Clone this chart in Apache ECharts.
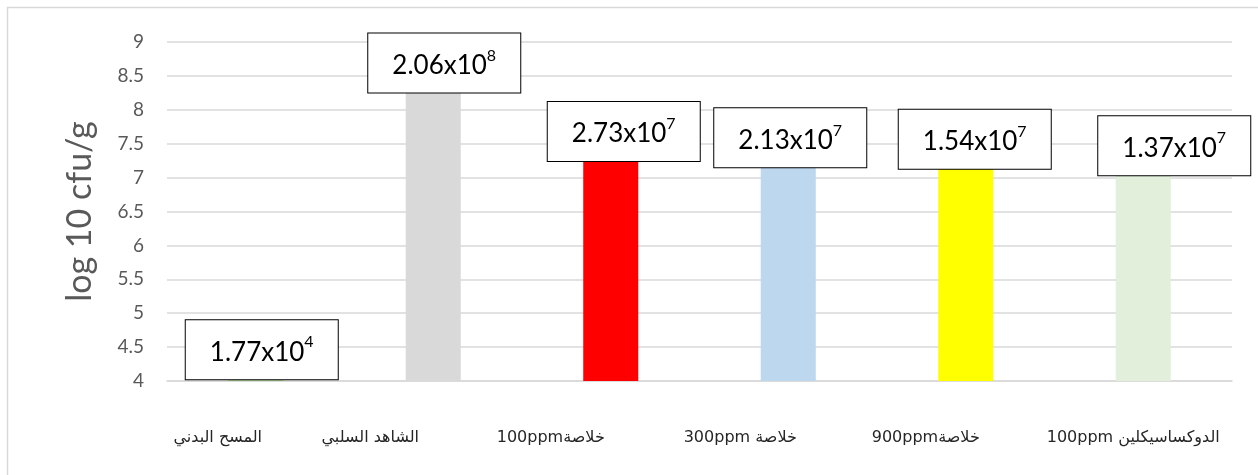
<!DOCTYPE html>
<html>
<head>
<meta charset="utf-8">
<script src="https://cdn.jsdelivr.net/npm/echarts@6/dist/echarts.min.js"></script>
<style>
  html, body { margin: 0; padding: 0; background: #fff; }
  #chart { width: 1258px; height: 475px; }
</style>
</head>
<body>
<div id="chart"></div>
<script>
// categories shown left to right (visual order, LTR paragraph)
var categories = ['المسح البدني', 'الشاهد السلبي', '100ppmخلاصة', '300ppm خلاصة', '900ppmخلاصة', '100ppm الدوكساسيكلين'];
// log10 cfu/g
var logValues = [4.248, 8.314, 7.436, 7.328, 7.188, 7.137];
// counts written in the boxes: mantissa and exponent
var mantissas = ['1.77', '2.06', '2.73', '2.13', '1.54', '1.37'];
var exponents = ['4', '8', '7', '7', '7', '7'];
var yTicks = { min: 4, max: 9, interval: 0.5 };

var barColors = ['#a9d18e', '#d9d9d9', '#ff0000', '#bdd7ee', '#ffff00', '#e2efda'];
// where each box sits relative to the top of its bar
var labelOffsets = [[6, 15], [11, 4], [13, 13], [2, 12], [9, 4], [31, 7]];
// shift of axis labels to the left (as padding on the right)
var catShift = [76, 126, 120, 96, 80, 20];

var font = 'Lato, "DejaVu Sans", sans-serif';

var seriesData = logValues.map(function (v, i) {
    return {
        value: v,
        itemStyle: { color: barColors[i] },
        label: { offset: labelOffsets[i] }
    };
});

var catRich = {};
catShift.forEach(function (s, i) {
    catRich['c' + i] = { padding: [0, s, 0, 0], fontSize: 16, color: '#262626', fontFamily: '"DejaVu Sans", sans-serif' };
});

var option = {
    animation: false,
    backgroundColor: '#fff',
    graphic: [{
        type: 'rect',
        shape: { x: 7.5, y: 7.5, width: 1300, height: 520 },
        style: { fill: 'none', stroke: '#d9d9d9', lineWidth: 1.5 },
        z: -1
    }],
    grid: { left: 167, right: 26, top: 42, bottom: 94 },
    xAxis: {
        type: 'category',
        data: categories,
        axisTick: { show: false },
        axisLine: { lineStyle: { color: '#d9d9d9', width: 1.5 } },
        axisLabel: {
            margin: 49,
            interval: 0,
            formatter: function (v, i) { return '{c' + i + '|' + v + '}'; },
            rich: catRich
        }
    },
    yAxis: {
        type: 'value',
        min: yTicks.min,
        max: yTicks.max,
        interval: yTicks.interval,
        name: 'log 10 cfu/g',
        nameLocation: 'middle',
        nameGap: 70,
        nameTextStyle: { fontSize: 34, color: '#595959', fontFamily: font },
        axisLine: { show: false },
        axisTick: { show: false },
        axisLabel: { fontSize: 19, color: '#595959', fontFamily: font, margin: 23 },
        splitLine: { lineStyle: { color: '#d9d9d9', width: 1.5 } }
    },
    series: [{
        type: 'bar',
        barWidth: '31%',
        data: seriesData,
        label: {
            show: true,
            position: 'top',
            distance: 0,
            backgroundColor: '#fff',
            borderColor: '#000',
            borderWidth: 1,
            padding: [14, 0, 14, 0],
            width: 152,
            align: 'center',
            formatter: function (p) {
                return '{m|' + mantissas[p.dataIndex] + 'x10}{e|' + exponents[p.dataIndex] + '}';
            },
            rich: {
                m: { fontSize: 26, color: '#000', fontFamily: font, lineHeight: 31, verticalAlign: 'bottom' },
                e: { fontSize: 16, color: '#000', fontFamily: font, lineHeight: 31, verticalAlign: 'top' }
            }
        }
    }]
};

var chart = echarts.init(document.getElementById('chart'));
chart.setOption(option);
</script>
</body>
</html>
